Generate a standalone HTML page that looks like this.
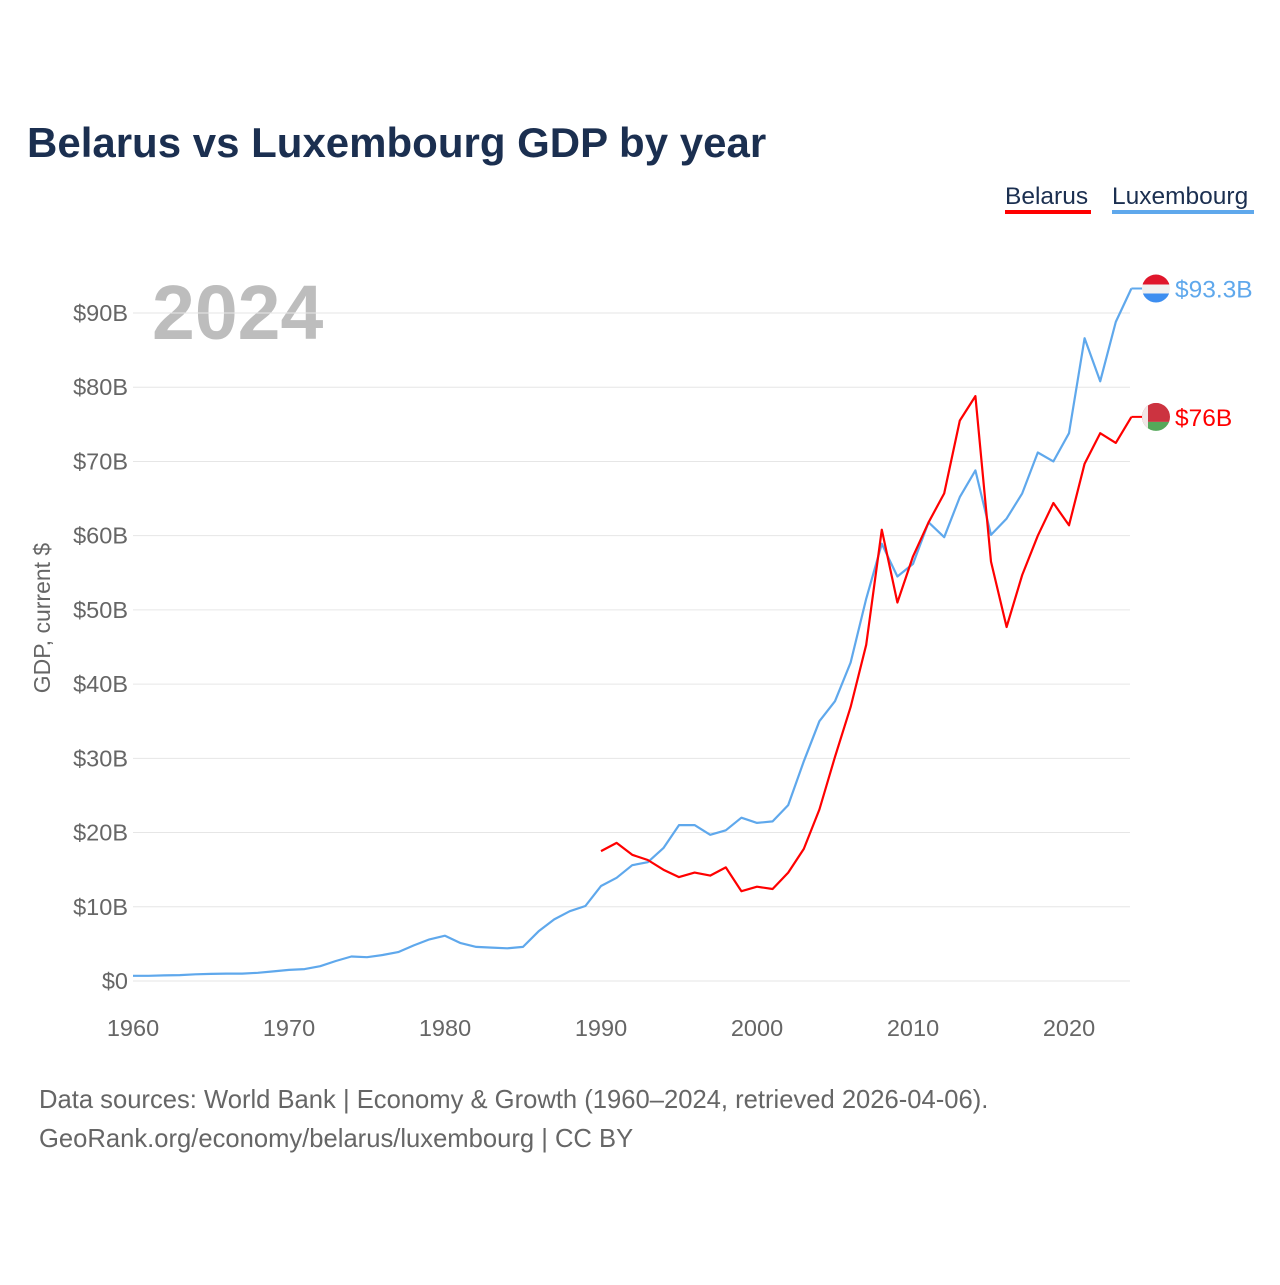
<!DOCTYPE html>
<html><head><meta charset="utf-8"><style>
body{margin:0;background:#fff;}
svg text{font-family:"Liberation Sans",sans-serif;}
</style></head><body>
<svg id="chart" width="1280" height="1280" xmlns="http://www.w3.org/2000/svg">
<text x="27" y="157" font-size="42" font-weight="bold" fill="#1b2f50">Belarus vs Luxembourg GDP by year</text>
<g>
<text x="1005" y="204" font-size="24.5" fill="#1b2f50">Belarus</text>
<rect x="1005" y="210" width="86" height="4" fill="#ff0000"/>
<text x="1112" y="204" font-size="24.5" fill="#1b2f50">Luxembourg</text>
<rect x="1112" y="210" width="142" height="4" fill="#5fa8ec"/>
</g>
<text x="152" y="339" font-size="77" font-weight="bold" fill="#bdbdbd">2024</text>
<text transform="translate(50,618) rotate(-90)" text-anchor="middle" font-size="23" fill="#666">GDP, current $</text>
<g id="grid"></g><g id="series"></g>
<text x="39" y="1108" font-size="25.6" fill="#666">Data sources: World Bank | Economy &amp; Growth (1960–2024, retrieved 2026-04-06).</text>
<text x="39" y="1147" font-size="25.6" fill="#666">GeoRank.org/economy/belarus/luxembourg | CC BY</text>
</svg>
<script>
const yTicks=[0,10,20,30,40,50,60,70,80,90];
const xTicks=[1960,1970,1980,1990,2000,2010,2020];
const luxStart=1960;
const luxValues=[0.7,0.7,0.75,0.8,0.9,0.95,1.0,1.0,1.1,1.3,1.5,1.6,2.0,2.7,3.3,3.2,3.5,3.9,4.8,5.6,6.1,5.1,4.6,4.5,4.4,4.6,6.7,8.3,9.4,10.1,12.8,13.9,15.6,16.0,17.9,21.0,21.0,19.7,20.3,22.0,21.3,21.5,23.7,29.6,35.0,37.7,42.9,51.5,58.9,54.5,56.2,61.8,59.8,65.2,68.8,60.1,62.3,65.7,71.2,70.0,73.8,86.6,80.8,88.8,93.3];
const blrStart=1990;
const blrValues=[17.5,18.6,17.0,16.3,15.0,14.0,14.6,14.2,15.3,12.1,12.7,12.4,14.6,17.8,23.1,30.2,36.9,45.3,60.8,51.0,57.2,61.8,65.7,75.5,78.8,56.5,47.7,54.7,60.0,64.4,61.4,69.7,73.8,72.5,76.0];
const X=y=>133+(y-1960)*(1069-133)/60;
const Y=v=>981-v*(981-313)/90;
const NS="http://www.w3.org/2000/svg";
const grid=document.getElementById('grid'),series=document.getElementById('series');
function mk(tag,attrs,parent){const e=document.createElementNS(NS,tag);for(const k in attrs)e.setAttribute(k,attrs[k]);parent.appendChild(e);return e;}
yTicks.forEach(t=>{
 const l=mk('line',{x1:133,x2:1130,y1:Y(t),y2:Y(t),stroke:'#e6e6e6','stroke-width':1},grid);
 
 
 const tx=mk('text',{x:128,y:Y(t)+8,'text-anchor':'end','font-size':23.5,fill:'#666'},grid);
 tx.textContent='$'+t+(t?'B':'');
 
 
});
xTicks.forEach(t=>{
 const tx=mk('text',{x:X(t),y:1036,'text-anchor':'middle','font-size':23.5,fill:'#666'},grid);
 tx.textContent=t;
 
 
});
function line(vals,start,color,name){
 const d=vals.map((v,i)=>(i?'L':'M')+X(start+i).toFixed(1)+','+Y(v).toFixed(1)).join('');
 const p=mk('path',{d:d,fill:'none',stroke:color,'stroke-width':2.2,'stroke-linejoin':'round'},series);
 
 
}
line(luxValues,luxStart,'#5fa8ec','luxembourg-line');
line(blrValues,blrStart,'#ff0000','belarus-line');
function endLabel(vals,start,color,label,name,flag){
 const last=vals[vals.length-1],y=Y(last),x=X(start+vals.length-1);
 mk('line',{x1:x,x2:1148,y1:y,y2:y,stroke:color,'stroke-width':2},series);
 const g=mk('g',{},series);
 
 
 const cid=name+'clip';
 const cp=mk('clipPath',{id:cid},g);mk('circle',{cx:1156,cy:y,r:14},cp);
 const gg=mk('g',{'clip-path':'url(#'+cid+')'},g);
 if(flag==='lu'){
  mk('rect',{x:1142,y:y-14,width:28,height:10,fill:'#e0162b'},gg);
  mk('rect',{x:1142,y:y-4,width:28,height:9,fill:'#f0f0f0'},gg);
  mk('rect',{x:1142,y:y+5,width:28,height:10,fill:'#3d8ef0'},gg);
 }else{
  mk('rect',{x:1142,y:y-14,width:28,height:19,fill:'#cc3340'},gg);
  mk('rect',{x:1142,y:y+5,width:28,height:10,fill:'#55a85a'},gg);
  mk('rect',{x:1142,y:y-14,width:6,height:28,fill:'#f2e6e6'},gg);
 }
 const t=mk('text',{x:1175,y:y+9,'font-size':24.5,fill:color},series);
 t.textContent=label;
 
 
}
endLabel(luxValues,luxStart,'#5fa8ec','$93.3B','luxembourg','lu');
endLabel(blrValues,blrStart,'#ff0000','$76B','belarus','by');
</script>
</body></html>
